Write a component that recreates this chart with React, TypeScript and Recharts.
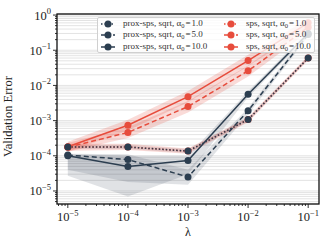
import { ComposedChart, Line, Area, XAxis, YAxis, CartesianGrid } from "recharts";

const lambdas = [1e-5, 1e-4, 1e-3, 1e-2, 1e-1];

// prox-sps, sqrt
const proxA1 = [1.78e-4, 1.78e-4, 1.36e-4, 1.07e-3, 0.06];
const proxA5 = [1.05e-4, 7.8e-5, 2.5e-5, 1.9e-3, 0.28];
const proxA10 = [1.0e-4, 5.0e-5, 7.3e-5, 5.6e-3, 0.3];
const proxA1Lo = [1.55e-4, 1.55e-4, 1.2e-4, 9.5e-4, 0.055];
const proxA1Hi = [2.0e-4, 2.0e-4, 1.55e-4, 1.2e-3, 0.066];
const proxA5Lo = [4.0e-5, 1.8e-5, 1.5e-5, 1.5e-3, 0.24];
const proxA5Hi = [1.15e-4, 1.1e-4, 4.0e-5, 2.3e-3, 0.33];
const proxA10Lo = [2.7e-5, 7.0e-6, 3.0e-5, 4.6e-3, 0.26];
const proxA10Hi = [1.1e-4, 1.0e-4, 1.0e-4, 6.8e-3, 0.35];

// sps, sqrt
const spsA1 = [1.78e-4, 1.78e-4, 1.36e-4, 1.07e-3, 0.06];
const spsA5 = [1.75e-4, 4.6e-4, 2.5e-3, 0.026, 0.45];
const spsA10 = [1.8e-4, 7.4e-4, 4.8e-3, 0.051, 0.6];
const spsA1Lo = [1.4e-4, 1.45e-4, 1.15e-4, 9.0e-4, 0.052];
const spsA1Hi = [2.2e-4, 2.2e-4, 1.6e-4, 1.25e-3, 0.07];
const spsA5Lo = [1.3e-4, 3.2e-4, 1.7e-3, 0.018, 0.33];
const spsA5Hi = [2.3e-4, 6.5e-4, 3.6e-3, 0.037, 0.6];
const spsA10Lo = [1.3e-4, 5.2e-4, 3.3e-3, 0.035, 0.45];
const spsA10Hi = [2.5e-4, 1.05e-3, 7.0e-3, 0.075, 0.8];

const xMajorTicks = [1e-5, 1e-4, 1e-3, 1e-2, 1e-1];
const xLabels = ["−5", "−4", "−3", "−2", "−1"];
const yMajorTicks = [1e-5, 1e-4, 1e-3, 1e-2, 1e-1, 1];
const yLabels = ["−5", "−4", "−3", "−2", "−1", "0"];

const xDomain = [Math.pow(10, -5.18), Math.pow(10, -0.82)];
const yDomain = [Math.pow(10, -5.37), Math.pow(10, 0.03)];

const DARK = "#2c3e50";
const RED = "#e74c3c";
const FONT = "'Liberation Serif', 'DejaVu Serif', serif";

const data = lambdas.map((lam, i) => ({
  lam,
  proxA1: proxA1[i],
  proxA5: proxA5[i],
  proxA10: proxA10[i],
  spsA1: spsA1[i],
  spsA5: spsA5[i],
  spsA10: spsA10[i],
  bProxA1: [proxA1Lo[i], proxA1Hi[i]],
  bProxA5: [proxA5Lo[i], proxA5Hi[i]],
  bProxA10: [proxA10Lo[i], proxA10Hi[i]],
  bSpsA1: [spsA1Lo[i], spsA1Hi[i]],
  bSpsA5: [spsA5Lo[i], spsA5Hi[i]],
  bSpsA10: [spsA10Lo[i], spsA10Hi[i]],
}));

function minorTicks(majors: number[], lo: number, hi: number) {
  const out: number[] = [];
  const decades = [majors[0] / 10, ...majors];
  decades.forEach((d) => {
    for (let k = 1; k <= 9; k++) {
      const v = +(d * k).toPrecision(3);
      if (v >= lo && v <= hi) out.push(v);
    }
  });
  return out;
}

const xTicks = minorTicks(xMajorTicks, xDomain[0], xDomain[1]);
const yTicks = minorTicks(yMajorTicks, yDomain[0], yDomain[1]);

const isMajor = (list: number[], v: number) => list.findIndex((m) => Math.abs(Math.log10(m) - Math.log10(v)) < 1e-6);

const YTick = (props: any) => {
  const { x, y, payload } = props;
  const idx = isMajor(yMajorTicks, payload.value);
  return (
    <g>
      <line x1={x - (idx >= 0 ? 4 : 2)} x2={x} y1={y} y2={y} stroke="#000" strokeWidth={0.8} />
      {idx >= 0 && (
        <text x={x - 6} y={y + 4.5} textAnchor="end" fontSize={12.5} fontFamily={FONT} fill="#222">
          <tspan>10</tspan>
          <tspan dy={-5.5} fontSize={8.5}>{yLabels[idx]}</tspan>
        </text>
      )}
    </g>
  );
};

const XTick = (props: any) => {
  const { x, y, payload } = props;
  const idx = isMajor(xMajorTicks, payload.value);
  return (
    <g>
      <line x1={x} x2={x} y1={y} y2={y + (idx >= 0 ? 4 : 2)} stroke="#000" strokeWidth={0.8} />
      {idx >= 0 && (
        <text x={x} y={y + 17} textAnchor="middle" fontSize={12.5} fontFamily={FONT} fill="#222">
          <tspan>10</tspan>
          <tspan dy={-5.5} fontSize={8.5}>{xLabels[idx]}</tspan>
        </text>
      )}
    </g>
  );
};

const legendLeft = [
  { label: "prox-sps, sqrt, ", a: "1.0", color: DARK, dash: "1.5 2" },
  { label: "prox-sps, sqrt, ", a: "5.0", color: DARK, dash: "4 2" },
  { label: "prox-sps, sqrt, ", a: "10.0", color: DARK, dash: "" },
];
const legendRight = [
  { label: "sps, sqrt, ", a: "1.0", color: RED, dash: "1.5 2" },
  { label: "sps, sqrt, ", a: "5.0", color: RED, dash: "4 2" },
  { label: "sps, sqrt, ", a: "10.0", color: RED, dash: "" },
];

type Item = (typeof legendLeft)[number];

const LegendEntry = ({ item }: { item: Item }) => (
  <div style={{ display: "flex", alignItems: "center", height: 11.3, whiteSpace: "nowrap" }}>
    <svg width={16} height={10} style={{ marginRight: 7, flex: "none" }}>
      <line x1={1} x2={15} y1={5} y2={5} stroke={item.color} strokeWidth={1.5} strokeDasharray={item.dash} />
      <circle cx={8} cy={5} r={3.5} fill={item.color} />
    </svg>
    <span>
      {item.label}α<sub style={{ fontSize: 6.5, verticalAlign: "-1.5px" }}>0</sub>
      <span style={{ margin: "0 1px" }}>=</span>
      {item.a}
    </span>
  </div>
);

export default function App() {
  return (
    <div style={{ position: "absolute", left: 0, top: 0, width: 332, height: 249, background: "#fff" }}>
      <ComposedChart width={332} height={249} data={data} margin={{ top: 14, right: 13, bottom: 0, left: 0 }}>
        <CartesianGrid vertical={false} stroke="#dcdcdc" strokeWidth={0.8} />
        <XAxis
          dataKey="lam"
          type="number"
          scale="log"
          domain={xDomain}
          allowDataOverflow
          ticks={xTicks}
          interval={0}
          tick={<XTick />}
          tickLine={false}
          axisLine={false}
          tickSize={0}
          tickMargin={0}
          height={45}
          label={{ value: "λ", position: "insideBottom", offset: 13, fontSize: 12, fontFamily: FONT, fill: "#222" }}
        />
        <YAxis
          type="number"
          scale="log"
          domain={yDomain}
          allowDataOverflow
          ticks={yTicks}
          interval={0}
          tick={<YTick />}
          tickLine={false}
          axisLine={false}
          tickSize={0}
          tickMargin={0}
          width={57}
          label={{ value: "Validation Error", angle: -90, position: "insideLeft", offset: 8, dy: 48, fontSize: 12.5, fontFamily: FONT, fill: "#222" }}
        />
        <Area dataKey="bProxA10" type="linear" stroke="none" fill={DARK} fillOpacity={0.15} isAnimationActive={false} dot={false} activeDot={false} />
        <Area dataKey="bProxA5" type="linear" stroke="none" fill={DARK} fillOpacity={0.15} isAnimationActive={false} dot={false} activeDot={false} />
        <Area dataKey="bProxA1" type="linear" stroke="none" fill={DARK} fillOpacity={0.15} isAnimationActive={false} dot={false} activeDot={false} />
        <Area dataKey="bSpsA10" type="linear" stroke="none" fill={RED} fillOpacity={0.2} isAnimationActive={false} dot={false} activeDot={false} />
        <Area dataKey="bSpsA5" type="linear" stroke="none" fill={RED} fillOpacity={0.2} isAnimationActive={false} dot={false} activeDot={false} />
        <Area dataKey="bSpsA1" type="linear" stroke="none" fill={RED} fillOpacity={0.2} isAnimationActive={false} dot={false} activeDot={false} />
        <Line dataKey="spsA10" type="linear" stroke={RED} strokeWidth={1.5} dot={{ r: 3.5, fill: RED, stroke: RED, strokeWidth: 0 }} isAnimationActive={false} />
        <Line dataKey="spsA5" type="linear" stroke={RED} strokeWidth={1.5} strokeDasharray="5 3" dot={{ r: 3.5, fill: RED, stroke: RED, strokeWidth: 0 }} isAnimationActive={false} />
        <Line dataKey="spsA1" type="linear" stroke={RED} strokeWidth={1.5} strokeDasharray="1.5 2" dot={{ r: 3.5, fill: RED, stroke: RED, strokeWidth: 0 }} isAnimationActive={false} />
        <Line dataKey="proxA10" type="linear" stroke={DARK} strokeWidth={1.5} dot={{ r: 3.5, fill: DARK, stroke: DARK, strokeWidth: 0 }} isAnimationActive={false} />
        <Line dataKey="proxA5" type="linear" stroke={DARK} strokeWidth={1.5} strokeDasharray="5 3" dot={{ r: 3.5, fill: DARK, stroke: DARK, strokeWidth: 0 }} isAnimationActive={false} />
        <Line dataKey="proxA1" type="linear" stroke={DARK} strokeWidth={1.5} strokeDasharray="1.5 2" dot={{ r: 3.5, fill: DARK, stroke: DARK, strokeWidth: 0 }} isAnimationActive={false} />
      </ComposedChart>
      <svg width={332} height={249} style={{ position: "absolute", left: 0, top: 0, pointerEvents: "none" }}>
        <rect x={57} y={14} width={262} height={190} fill="none" stroke="#111" strokeWidth={1.3} />
      </svg>
      <div
        style={{
          position: "absolute",
          left: 97,
          top: 17,
          width: 218,
          height: 36,
          boxSizing: "border-box",
          border: "1px solid #d0d0d0",
          borderRadius: 2,
          background: "rgba(255,255,255,0.8)",
          fontFamily: FONT,
          fontSize: 9,
          color: "#333",
          lineHeight: 1,
        }}
      >
        <div style={{ position: "absolute", left: 2, top: 0.5 }}>
          {legendLeft.map((it, i) => (
            <LegendEntry key={i} item={it} />
          ))}
        </div>
        <div style={{ position: "absolute", left: 125, top: 0.5 }}>
          {legendRight.map((it, i) => (
            <LegendEntry key={i} item={it} />
          ))}
        </div>
      </div>
    </div>
  );
}
